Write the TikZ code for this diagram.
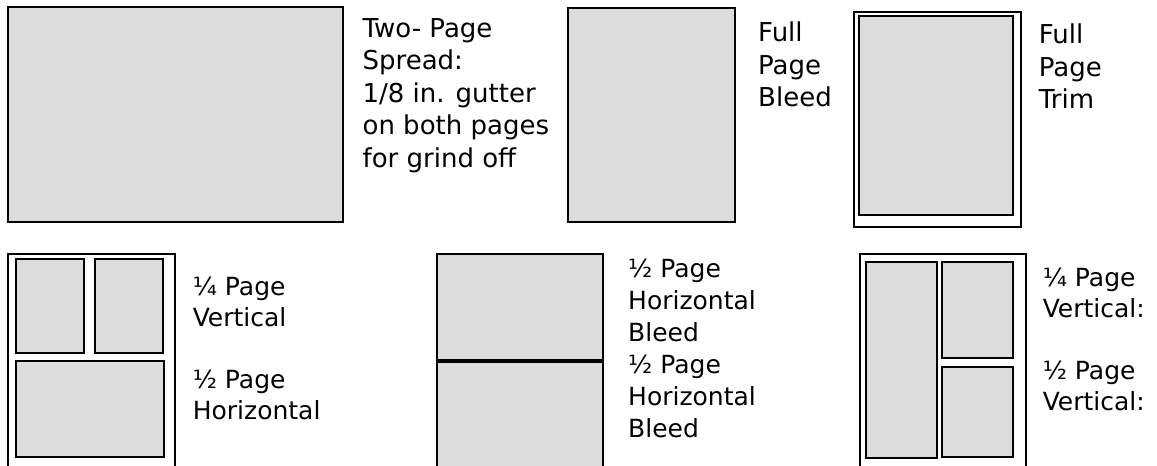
\documentclass[tikz,border=0pt]{standalone}
\usepackage{fontspec}
\setmainfont{DejaVu Sans}
\usepackage{tikz}
\usetikzlibrary{positioning}
\definecolor{boxgray}{RGB}{220,220,220}

\begin{document}
\begin{tikzpicture}[x=1pt,y=1pt,
pagebox/.style={rectangle, draw=black, fill=boxgray, line width=2pt, anchor=north west, inner sep=0pt},
framebox/.style={rectangle, draw=black, fill=white, line width=1.6pt, anchor=north west, inner sep=0pt},
adtext/.style={anchor=north west, inner sep=0pt, align=left, font=\fontsize{26}{32.5}\selectfont},
]
\useasboundingbox (0,0) rectangle (1157,-466);
\clip (0,0) rectangle (1157,-466);

% top row
\node[pagebox, line width=2.4pt, minimum width=335pt, minimum height=215pt] (spread) at (7,-6) {};
\node[adtext, below right=12pt and 18pt of spread.north east] (spreadtxt) {Two- Page\\Spread:\\1/8 in. gutter\\on both pages\\for grind off};

\node[pagebox, minimum width=167pt, minimum height=214pt] (bleed) at (567,-7) {};
\node[adtext, below right=15pt and 22pt of bleed.north east] (bleedtxt) {Full\\Page\\Bleed};

\node[framebox, minimum width=167pt, minimum height=215pt] (trim) at (853,-11) {};
\node[pagebox, minimum width=154pt, minimum height=199pt, below right=4pt and 5pt of trim.north west] (trimin) {};
\node[adtext, below right=13pt and 17pt of trim.north east] (trimtxt) {Full\\Page\\Trim};

% bottom row
\node[framebox, minimum width=167pt, minimum height=240pt] (qframe) at (7,-253) {};
\node[pagebox, minimum width=68pt, minimum height=94pt, below right=5pt and 8pt of qframe.north west] (qleft) {};
\node[pagebox, minimum width=68pt, minimum height=94pt, below right=0pt and 9pt of qleft.north east] (qright) {};
\node[pagebox, minimum width=148pt, minimum height=96pt, below right=6pt and 0pt of qleft.south west] (qhoriz) {};
\node[adtext, font=\fontsize{25}{31}\selectfont, below right=24pt and 17pt of qframe.north east] (qtxt) {¼ Page\\Vertical\\[31pt]½ Page\\Horizontal};

\node[pagebox, minimum width=166pt, minimum height=106pt] (htop) at (436,-253) {};
\node[pagebox, minimum width=166pt, minimum height=120pt, below right=0pt and 0pt of htop.south west] (hbottom) {};
\node[adtext, font=\fontsize{25}{32}\selectfont, below right=6pt and 24pt of htop.north east] (htxt) {½ Page\\Horizontal\\Bleed\\½ Page\\Horizontal\\Bleed};

\node[framebox, minimum width=166pt, minimum height=240pt] (vframe) at (859,-253) {};
\node[pagebox, minimum width=71pt, minimum height=196pt, below right=8pt and 6pt of vframe.north west] (vtall) {};
\node[pagebox, minimum width=71pt, minimum height=96pt, below right=0pt and 3pt of vtall.north east] (vtop) {};
\node[pagebox, minimum width=71pt, minimum height=90pt, below right=7pt and 0pt of vtop.south west] (vbottom) {};
\node[adtext, font=\fontsize{25}{31}\selectfont, below right=15pt and 16pt of vframe.north east] (vtxt) {¼ Page\\Vertical:\\[31pt]½ Page\\Vertical:};

\end{tikzpicture}
\end{document}
